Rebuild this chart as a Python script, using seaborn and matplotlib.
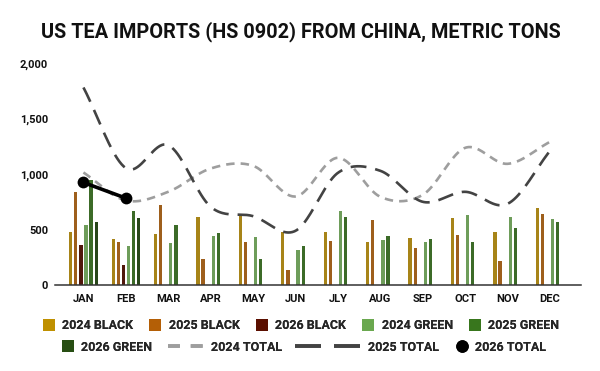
import numpy as np
import matplotlib
matplotlib.use("Agg")
import matplotlib.pyplot as plt
from matplotlib.lines import Line2D
import pandas as pd
import seaborn as sns

# Datos (toneladas metricas)
meses = ["JAN", "FEB", "MAR", "APR", "MAY", "JUN", "JLY", "AUG", "SEP", "OCT", "NOV", "DEC"]
black_2024 = [477, 414, 462, 612, 645, 483, 480, 390, 426, 606, 480, 696]
black_2025 = [837, 390, 723, 237, 387, 138, 399, 588, 336, 453, 219, 642]
black_2026 = [360, 183]
green_2024 = [540, 351, 381, 441, 432, 318, 669, 408, 390, 633, 615, 597]
green_2025 = [945, 666, 540, 471, 237, 354, 615, 444, 417, 390, 516, 570]
green_2026 = [567, 603]
total_2024 = [1017, 765, 843, 1053, 1077, 801, 1149, 798, 816, 1239, 1095, 1293]
total_2025 = [1782, 1056, 1263, 708, 624, 492, 1014, 1032, 753, 843, 735, 1212]
total_2026 = [927, 786]

series = ["2024 BLACK", "2025 BLACK", "2026 BLACK", "2024 GREEN", "2025 GREEN", "2026 GREEN"]
colores = ["#bf9000", "#b45f06", "#5b0f00", "#6aa84f", "#38761d", "#274e13"]
gris_2024 = "#9e9e9e"
gris_2025 = "#434343"


def suavizar(valores, n=40):
    # curva tipo catmull-rom entre los puntos (solo para dibujar)
    y = np.asarray(valores, dtype=float)
    m = np.gradient(y)
    xs, ys = [], []
    for i in range(len(y) - 1):
        t = np.linspace(0, 1, n, endpoint=(i == len(y) - 2))
        h00 = 2 * t**3 - 3 * t**2 + 1
        h10 = t**3 - 2 * t**2 + t
        h01 = -2 * t**3 + 3 * t**2
        h11 = t**3 - t**2
        xs.append(i + t)
        ys.append(h00 * y[i] + h10 * m[i] + h01 * y[i + 1] + h11 * m[i + 1])
    return pd.DataFrame({"x": np.concatenate(xs), "y": np.concatenate(ys)})


filas = []
for serie, valores in zip(series, [black_2024, black_2025, black_2026,
                                   green_2024, green_2025, green_2026]):
    for mes, v in zip(meses, valores):
        filas.append({"mes": mes, "serie": serie, "valor": v})
df = pd.DataFrame(filas)

sns.set_theme(style="white")
plt.rcParams["font.family"] = ["Roboto", "DejaVu Sans"]
plt.rcParams["font.weight"] = "bold"

fig = plt.figure(figsize=(6, 3.71), dpi=100)
ax = fig.add_axes([0.0917, 0.2305, 0.8766, 0.599])

sns.barplot(data=df, x="mes", y="valor", hue="serie", order=meses, hue_order=series,
            palette=colores, width=0.72, gap=0.36, errorbar=None, legend=False,
            linewidth=0, ax=ax)

c24 = suavizar(total_2024)
c25 = suavizar(total_2025)
sns.lineplot(data=c24, x="x", y="y", sort=False, estimator=None, ax=ax,
             color=gris_2024, linewidth=1.9)
ax.lines[-1].set_dashes([3.2, 2.3])
sns.lineplot(data=c25, x="x", y="y", sort=False, estimator=None, ax=ax,
             color=gris_2025, linewidth=1.9)
ax.lines[-1].set_dashes([6.0, 3.4])
sns.lineplot(x=np.arange(len(total_2026)), y=total_2026, ax=ax, color="black",
             linewidth=2.6, marker="o", markersize=8.5, markeredgewidth=0)

ax.set_xlim(-0.67, 11.73)
ax.set_ylim(0, 2000)
ax.set_yticks([0, 500, 1000, 1500, 2000])
ax.set_yticklabels([f"{v:,}" for v in [0, 500, 1000, 1500, 2000]])
ax.set_xlabel("")
ax.set_ylabel("")
ax.tick_params(axis="both", length=0, labelsize=8, colors="#111111")
ax.tick_params(axis="x", pad=6)
ax.tick_params(axis="y", pad=5)
for lab in ax.get_xticklabels() + ax.get_yticklabels():
    lab.set_fontweight("bold")
sns.despine(ax=ax, left=True)
ax.spines["bottom"].set_color("#333333")
ax.spines["bottom"].set_linewidth(1.1)

fig.text(0.502, 0.916, "US TEA IMPORTS (HS 0902) FROM CHINA, METRIC TONS",
         ha="center", va="center", fontsize=14.3, fontweight="bold", color="#111111")

# Leyenda: fila 1 con las barras, fila 2 armada pieza a pieza
cuadros = [Line2D([], [], linestyle="none", marker="s", markersize=8,
                  markerfacecolor=c, markeredgewidth=0) for c in colores]
fila1 = fig.legend(cuadros[:5], series[:5], loc="center", bbox_to_anchor=(0.502, 0.122),
                   ncol=5, frameon=False, fontsize=9, handlelength=0.9,
                   handletextpad=0.6, columnspacing=1.35, borderpad=0)

l24 = Line2D([], [], color=gris_2024, linewidth=2.6, dashes=[3.3, 3.0])
l25 = Line2D([], [], color=gris_2025, linewidth=2.6, dashes=[7.2, 3.6])
p26 = Line2D([], [], linestyle="none", marker="o", markersize=8, color="black")
fila2 = [(cuadros[5], "2026 GREEN", 0.9, 62),
         (l24, "2024 TOTAL", 2.8, 168),
         (l25, "2025 TOTAL", 5.2, 295),
         (p26, "2026 TOTAL", 0.9, 456)]
for handle, texto, largo, x_px in fila2:
    ley = fig.legend([handle], [texto], loc="center left",
                     bbox_to_anchor=(x_px / 600, 0.064), frameon=False, fontsize=9,
                     handlelength=largo, handletextpad=0.6, borderpad=0, borderaxespad=0)
    fig.add_artist(ley)
fig.add_artist(fila1)

fig.savefig("out.png", dpi=100)
